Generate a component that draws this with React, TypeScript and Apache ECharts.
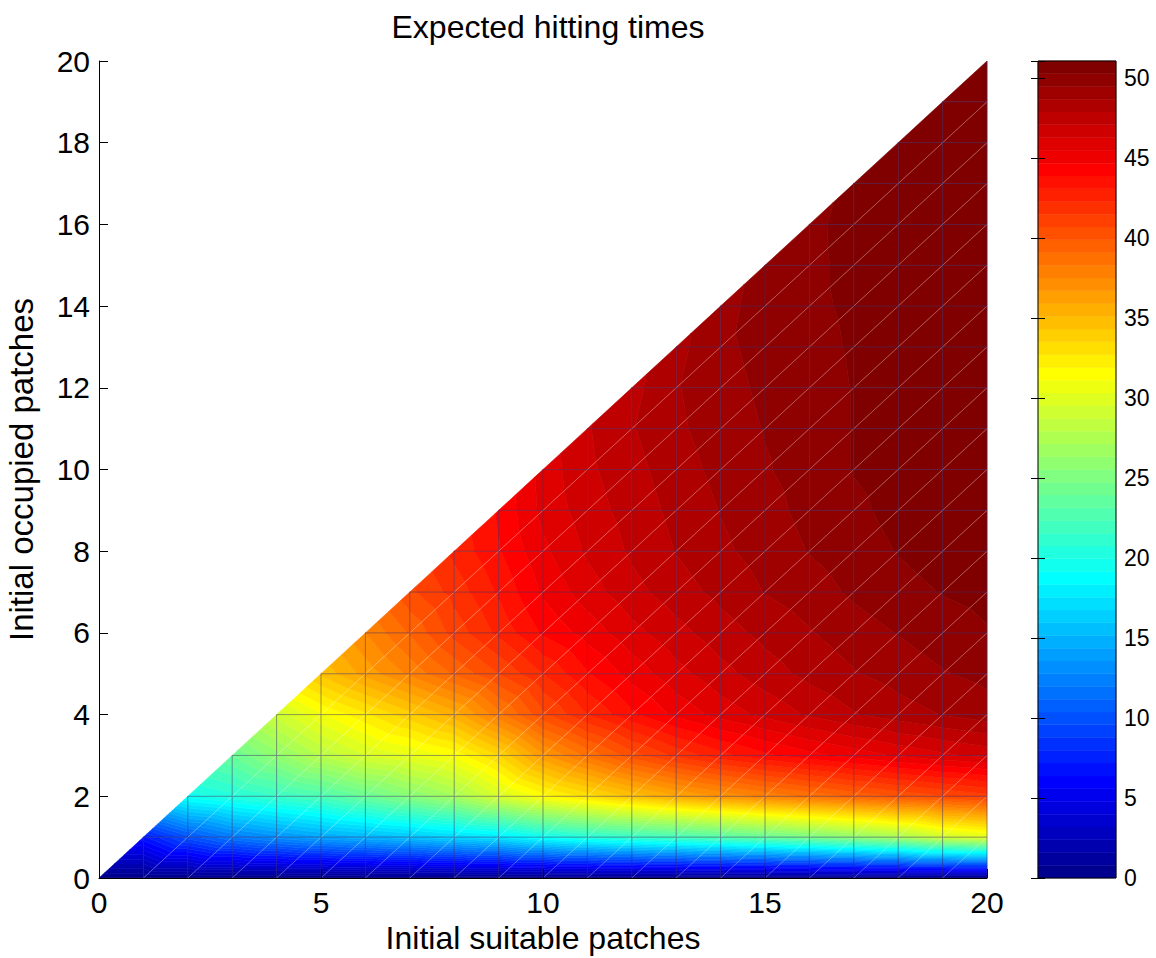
import React, { useEffect, useRef } from "react";
import * as echarts from "echarts";

// Axis ticks
const suitableTicks = [0, 5, 10, 15, 20];
const occupiedTicks = [0, 2, 4, 6, 8, 10, 12, 14, 16, 18, 20];
const colorbarTicks = [0, 5, 10, 15, 20, 25, 30, 35, 40, 45, 50];
const colorMax = 51.06;
const colorLevels = 64;

// Expected hitting time, one array per number of initially occupied patches,
// listed for initial suitable patches = occupied ... 20
const occupied0 = [0, 0, 0, 0, 0, 0, 0, 0, 0, 0, 0, 0, 0, 0, 0, 0, 0, 0, 0, 0, 0];
const occupied1 = [7, 10, 12, 13.2, 14.2, 15, 15.8, 16.7, 17.6, 19.3, 20.5, 21.3, 22, 22.8, 23.7, 24.7, 25.8, 27, 29, 30];
const occupied2 = [19.5, 20.5, 21.5, 22.5, 24, 25.5, 27, 29.5, 31.5, 33, 34.5, 35.8, 36.8, 37.7, 38.5, 39.3, 40, 40.6, 41.2];
const occupied3 = [24, 26, 28, 29.5, 30.3, 31.3, 33.5, 36.5, 38.5, 40.3, 41.7, 42.8, 43.7, 44.4, 45, 45.6, 46.1, 46.5];
const occupied4 = [29, 31, 32.5, 34, 35.5, 38, 40.5, 42.3, 43.7, 44.9, 45.8, 46.5, 47.2, 47.8, 48.3, 48.7, 49.1];
const occupied5 = [34.5, 36.2, 37.7, 39.2, 40.7, 42.3, 43.8, 45, 46, 46.8, 47.5, 48.1, 48.6, 49, 49.4, 49.7];
const occupied6 = [37.5, 39.2, 41, 42.5, 44, 45, 46, 46.8, 47.5, 48.1, 48.6, 49.1, 49.5, 49.9, 50.2];
const occupied7 = [40.5, 41.8, 43.2, 44.8, 45.9, 46.8, 47.5, 48.1, 48.7, 49.1, 49.6, 50, 50.3, 50.5];
const occupied8 = [42.5, 43.8, 45.3, 46.4, 47.2, 47.9, 48.5, 49, 49.5, 49.9, 50.3, 50.6, 50.8];
const occupied9 = [44, 45.7, 46.7, 47.4, 48.1, 48.7, 49.2, 49.7, 50.1, 50.5, 50.8, 51];
const occupied10 = [45.8, 46.9, 47.6, 48.3, 48.9, 49.4, 49.8, 50.3, 50.6, 50.9, 51];
const occupied11 = [47, 47.8, 48.5, 49.1, 49.5, 49.8, 50.3, 50.7, 51, 51];
const occupied12 = [47.6, 48.6, 49.2, 49.6, 49.9, 50.3, 50.8, 51, 51.03];
const occupied13 = [48.4, 49.3, 49.7, 50.0, 50.35, 50.8, 51, 51.03];
const occupied14 = [49.2, 49.8, 50.1, 50.4, 50.8, 51, 51.04];
const occupied15 = [49.7, 50.1, 50.45, 50.8, 51, 51.04];
const occupied16 = [50.1, 50.5, 50.9, 51, 51.05];
const occupied17 = [50.4, 50.8, 51, 51.05];
const occupied18 = [50.7, 51, 51.05];
const occupied19 = [50.9, 51.05];
const occupied20 = [51.06];

const rows = [
  occupied0, occupied1, occupied2, occupied3, occupied4, occupied5, occupied6,
  occupied7, occupied8, occupied9, occupied10, occupied11, occupied12, occupied13,
  occupied14, occupied15, occupied16, occupied17, occupied18, occupied19, occupied20,
];
const N = rows.length - 1; // 20

const FONT = '"Liberation Sans", Arial, Helvetica, sans-serif';

function valueAt(x: number, y: number): number {
  return rows[y][x - y];
}

// MATLAB jet colormap with 64 entries (0-based index)
function jetColor(k0: number): string {
  const k = k0 + 1;
  let r = 0, g = 0, b = 0;
  if (k <= 8) b = (k + 8) / 16;
  else if (k <= 23) b = 1;
  else if (k <= 39) b = (40 - k) / 16;
  if (k >= 9 && k <= 24) g = (k - 8) / 16;
  else if (k >= 25 && k <= 39) g = 1;
  else if (k >= 40 && k <= 55) g = (56 - k) / 16;
  if (k >= 25 && k <= 40) r = (k - 24) / 16;
  else if (k >= 41 && k <= 55) r = 1;
  else if (k >= 56) r = (72 - k) / 16;
  const c = (v: number) => Math.round(v * 255);
  return `rgb(${c(r)},${c(g)},${c(b)})`;
}

const bandWidth = colorMax / colorLevels;
function bandOf(v: number): number {
  return Math.max(0, Math.min(colorLevels - 1, Math.floor(v / bandWidth)));
}

type P = { x: number; y: number; v: number };
function clip(poly: P[], t: number, keepAbove: boolean): P[] {
  const out: P[] = [];
  const n = poly.length;
  for (let a = 0; a < n; a++) {
    const A = poly[a];
    const B = poly[(a + 1) % n];
    const fa = keepAbove ? A.v - t : t - A.v;
    const fb = keepAbove ? B.v - t : t - B.v;
    if (fa >= 0) out.push(A);
    if ((fa >= 0) !== (fb >= 0)) {
      const s = fa / (fa - fb);
      out.push({ x: A.x + s * (B.x - A.x), y: A.y + s * (B.y - A.y), v: A.v + s * (B.v - A.v) });
    }
  }
  return out;
}

// Triangles of the mesh: [suitable, occupied, kind]
const triangles: number[][] = [];
for (let j = 0; j < N; j++) {
  for (let i = j; i < N; i++) {
    triangles.push([i, j, 0]);
    if (j + 1 <= i) triangles.push([i, j, 1]);
  }
}
// Mesh edges: [x1, y1, x2, y2, kind]
const edges: number[][] = [];
for (let j = 0; j <= N; j++) {
  for (let i = j; i <= N; i++) {
    if (i < N) edges.push([i, j, i + 1, j, 0]);
    if (j + 1 <= i) edges.push([i, j, i, j + 1, 0]);
    if (i < N && j < i) edges.push([i, j, i + 1, j + 1, 1]);
  }
}
const bands = Array.from({ length: colorLevels }, (_, k) => [k]);

export default function App() {
  const ref = useRef<HTMLDivElement>(null);
  useEffect(() => {
    if (!ref.current) return;
    const chart = echarts.init(ref.current, undefined, { renderer: "svg" });
    const tickStyle = { fontFamily: FONT, fontSize: 30, color: "#000" };
    const nameStyle = { fontFamily: FONT, fontSize: 32, color: "#000" };
    const option: any = {
      animation: false,
      backgroundColor: "#ffffff",
      title: {
        text: "Expected hitting times",
        left: 543,
        top: 6,
        textAlign: "center",
        textStyle: { fontFamily: FONT, fontSize: 32, fontWeight: "normal", color: "#000" },
      },
      grid: [
        { left: 99, top: 61, width: 888, height: 817, containLabel: false, outerBoundsMode: "none" },
        { left: 1038, top: 61, width: 78, height: 817, containLabel: false, outerBoundsMode: "none" },
      ],
      xAxis: [
        {
          type: "value", gridIndex: 0, min: suitableTicks[0], max: suitableTicks[suitableTicks.length - 1],
          interval: 5, z: 10,
          name: "Initial suitable patches", nameLocation: "middle", nameGap: 43,
          nameTextStyle: nameStyle,
          axisLine: { show: true, onZero: false, lineStyle: { color: "#000", width: 1 } },
          axisTick: { show: true, inside: true, length: 9, lineStyle: { color: "#000" } },
          axisLabel: { ...tickStyle, margin: 9 },
          splitLine: { show: false },
        },
        { type: "value", gridIndex: 1, min: 0, max: 1, show: false },
      ],
      yAxis: [
        {
          type: "value", gridIndex: 0, min: occupiedTicks[0], max: occupiedTicks[occupiedTicks.length - 1],
          interval: 2, z: 10,
          name: "Initial occupied patches", nameLocation: "middle", nameGap: 61, nameRotate: 90,
          nameTextStyle: { ...nameStyle, fontSize: 33 },
          axisLine: { show: true, onZero: false, lineStyle: { color: "#000", width: 1 } },
          axisTick: { show: true, inside: true, length: 9, lineStyle: { color: "#000" } },
          axisLabel: { ...tickStyle, margin: 9 },
          splitLine: { show: false },
        },
        {
          type: "value", gridIndex: 1, min: colorbarTicks[0], max: colorMax, interval: 5, position: "right", z: 10,
          axisLine: { show: false },
          axisTick: { show: true, inside: true, length: 7, lineStyle: { color: "#000" } },
          axisLabel: {
            fontFamily: FONT, fontSize: 23, color: "#000", margin: 8,
            formatter: (v: number) => (colorbarTicks.indexOf(Math.round(v * 1000) / 1000) >= 0 ? String(Math.round(v)) : ""),
          },
          splitLine: { show: false },
        },
        {
          type: "value", gridIndex: 1, min: colorbarTicks[0], max: colorMax, interval: 5, position: "left", z: 10,
          axisLine: { show: false },
          axisTick: { show: true, inside: true, length: 7, lineStyle: { color: "#000" } },
          axisLabel: { show: false },
          splitLine: { show: false },
        },
      ],
      graphic: [
        {
          type: "rect", z: 100,
          shape: { x: 1038, y: 61, width: 78, height: 817 },
          style: { fill: "none", stroke: "#000", lineWidth: 1 },
        },
      ],
      series: [
        {
          type: "custom",
          xAxisIndex: 0, yAxisIndex: 0, z: 2,
          data: triangles,
          renderItem: (_params: any, api: any) => {
            const i = api.value(0);
            const j = api.value(1);
            const kind = api.value(2);
            const pts = kind === 0
              ? [[i, j], [i + 1, j], [i + 1, j + 1]]
              : [[i, j], [i + 1, j + 1], [i, j + 1]];
            const verts: P[] = pts.map(([x, y]) => {
              const c = api.coord([x, y]);
              return { x: c[0], y: c[1], v: valueAt(x, y) };
            });
            const vs = verts.map((p) => p.v);
            const k0 = bandOf(Math.min(...vs));
            const k1 = bandOf(Math.max(...vs));
            const children: any[] = [];
            for (let k = k0; k <= k1; k++) {
              let poly = verts;
              if (k > 0) poly = clip(poly, k * bandWidth, true);
              if (k < colorLevels - 1) poly = clip(poly, (k + 1) * bandWidth, false);
              if (poly.length < 3) continue;
              const col = jetColor(k);
              children.push({
                type: "polygon",
                shape: { points: poly.map((p) => [p.x, p.y]) },
                style: { fill: col, stroke: col, lineWidth: 0.6 },
              });
            }
            return { type: "group", children };
          },
        },
        {
          type: "custom",
          xAxisIndex: 0, yAxisIndex: 0, z: 3,
          data: edges,
          renderItem: (_params: any, api: any) => {
            const a = api.coord([api.value(0), api.value(1)]);
            const b = api.coord([api.value(2), api.value(3)]);
            const diag = api.value(4) === 1;
            return {
              type: "line",
              shape: { x1: a[0], y1: a[1], x2: b[0], y2: b[1] },
              style: diag
                ? { stroke: "rgba(255,255,255,0.4)", lineWidth: 0.8 }
                : { stroke: "rgba(60,50,110,0.5)", lineWidth: 1 },
            };
          },
        },
        {
          type: "custom",
          xAxisIndex: 1, yAxisIndex: 1, z: 2,
          data: bands,
          renderItem: (_params: any, api: any) => {
            const k = api.value(0);
            const p0 = api.coord([0, k * bandWidth]);
            const p1 = api.coord([1, (k + 1) * bandWidth]);
            const col = jetColor(k);
            return {
              type: "rect",
              shape: { x: p0[0], y: p1[1], width: p1[0] - p0[0], height: p0[1] - p1[1] },
              style: { fill: col, stroke: col, lineWidth: 0.5 },
            };
          },
        },
      ],
    };
    chart.setOption(option);
    return () => chart.dispose();
  }, []);
  return (
    <div
      ref={ref}
      style={{ position: "fixed", left: 0, top: 0, width: 1156, height: 958, background: "#fff" }}
    />
  );
}
